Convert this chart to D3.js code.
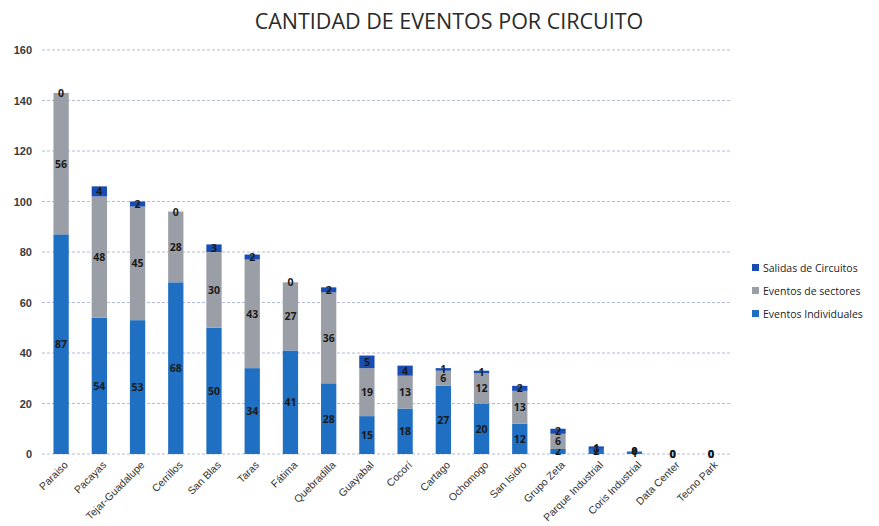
<!DOCTYPE html>
<html>
<head>
<meta charset="utf-8">
<script src="https://cdn.jsdelivr.net/npm/d3@7"></script>
<style>
body{margin:0;background:#fff;}
svg{font-family:"Open Sans",sans-serif;}
</style>
</head>
<body>
<div id="chart"></div>
<script>
let circuitos=["Paraiso","Pacayas","Tejar-Guadalupe","Cerrillos","San Blas","Taras","Fátima","Quebradilla","Guayabal","Cocorí","Cartago","Ochomogo","San Isidro","Grupo Zeta","Parque Industrial","Coris Industrial","Data Center","Tecno Park"];
let individuales=[87,54,53,68,50,34,41,28,15,18,27,20,12,2,2,1,0,0];
let sectores=[56,48,45,28,30,43,27,36,19,13,6,12,13,6,0,0,0,0];
let salidas=[0,4,2,0,3,2,0,2,5,4,1,1,2,2,1,0,0,0];
let yTicks=[0,20,40,60,80,100,120,140,160];

let series=[
 {name:"Eventos Individuales",values:individuales,color:"#1f6fc2"},
 {name:"Eventos de sectores",values:sectores,color:"#9a9ea6"},
 {name:"Salidas de Circuitos",values:salidas,color:"#1a4db3"}
];

let width=879, height=526;
let padLeft=42, padRight=730, padTop=50, padBottom=454;

let chart=d3.select("#chart").append("svg")
.attr("width",width)
.attr("height",height);

let xscale=d3.scaleBand().domain(circuitos).range([padLeft,padRight]).paddingInner(0.6).paddingOuter(0.3);
let yscale=d3.scaleLinear().domain([0,160]).range([padBottom,padTop]);

// grid
chart.append("g").selectAll("line")
.data(yTicks)
.enter()
.append("line")
.attr("x1",padLeft).attr("x2",padRight)
.attr("y1",d=>yscale(d)).attr("y2",d=>yscale(d))
.attr("stroke","#b4bcd8")
.attr("stroke-width",1)
.attr("stroke-dasharray","3,2");

// y axis labels
let yAxis=d3.axisLeft(yscale).tickValues(yTicks).tickSize(0).tickPadding(8);
let ya=chart.append("g")
.attr("transform","translate("+(padLeft-2)+",0)")
.call(yAxis);
ya.select(".domain").remove();
ya.selectAll("text").attr("font-size",11).attr("font-weight","bold").attr("fill","#3a3a3a");

// stack
let rows=circuitos.map((c,i)=>({c:c,"Eventos Individuales":individuales[i],"Eventos de sectores":sectores[i],"Salidas de Circuitos":salidas[i]}));
let stack=d3.stack().keys(series.map(s=>s.name))(rows);

let layers=chart.append("g").selectAll("g")
.data(stack)
.enter()
.append("g")
.attr("fill",(d,i)=>series[i].color);

layers.selectAll("rect")
.data(d=>d)
.enter()
.append("rect")
.attr("x",d=>xscale(d.data.c))
.attr("width",xscale.bandwidth())
.attr("y",d=>yscale(d[1]))
.attr("height",d=>yscale(d[0])-yscale(d[1]));

// value labels
layers.selectAll("text")
.data(d=>d.map(p=>({p:p,key:d.key})))
.enter()
.append("text")
.attr("x",d=>xscale(d.p.data.c)+xscale.bandwidth()/2)
.attr("y",d=>yscale((d.p[0]+d.p[1])/2)+4)
.attr("text-anchor","middle")
.attr("font-size",10.5)
.attr("font-weight","bold")
.attr("fill","#1a1a1a")
.text(d=>d.p.data[d.key]);

// x axis labels
let xAxis=d3.axisBottom(xscale).tickSize(0).tickPadding(0);
let xa=chart.append("g")
.attr("transform","translate(0,"+padBottom+")")
.call(xAxis);
xa.select(".domain").remove();
xa.selectAll("text")
.attr("font-size",10.5)
.attr("fill","#333")
.attr("text-anchor","end")
.attr("transform","translate(5,9) rotate(-45)")
.attr("dy","0.35em");

// title
chart.append("text")
.attr("x",449).attr("y",29)
.attr("text-anchor","middle")
.attr("font-size",21.5)
.attr("fill","#2a2a2a")
.text("CANTIDAD DE EVENTOS POR CIRCUITO");

// legend
let legendItems=series.slice().reverse();
let lg=chart.append("g").selectAll("g")
.data(legendItems)
.enter()
.append("g")
.attr("transform",(d,i)=>"translate(752,"+(272+i*23)+")");
lg.append("rect").attr("x",0).attr("y",-8).attr("width",7).attr("height",7).attr("fill",d=>d.color);
lg.append("text").attr("x",11).attr("y",0).attr("font-size",10.5).attr("fill","#222").text(d=>d.name);
</script>
</body>
</html>
